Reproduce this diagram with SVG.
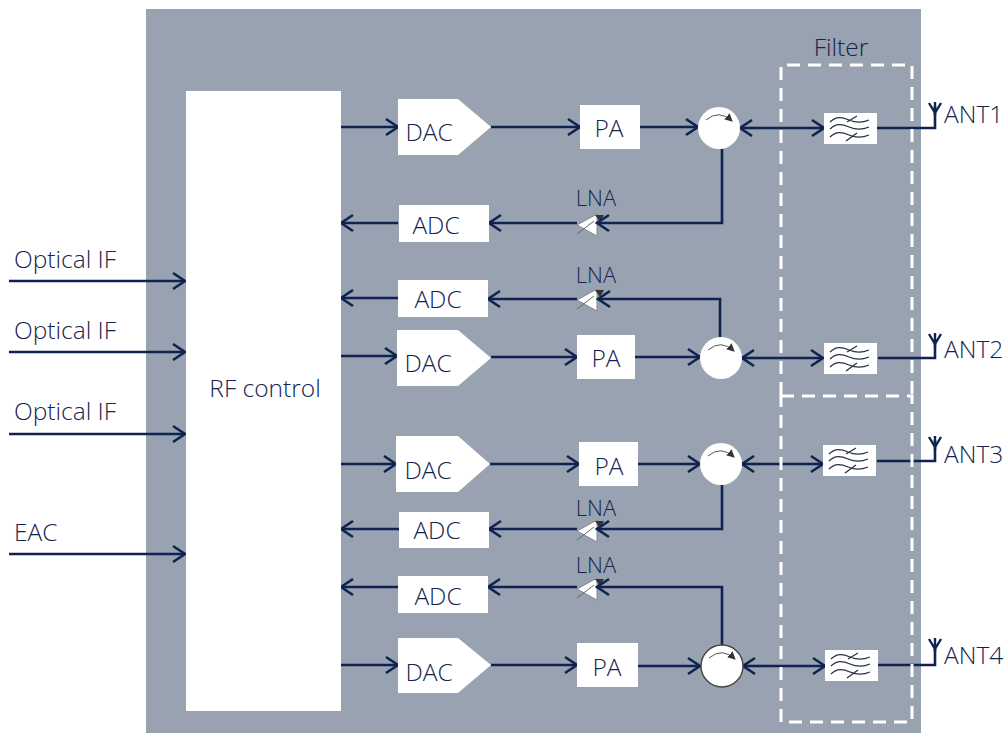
<svg xmlns="http://www.w3.org/2000/svg" width="1006" height="733" viewBox="0 0 1006 733">
<style>
text{font-family:"Open Sans","Noto Sans","Liberation Sans",sans-serif;font-weight:300;fill:#14244d;transform:translateY(-1px)}
.t{font-size:24.5px}
.m{text-anchor:middle}
.l{font-size:22px}
.w{fill:#fff}
.c{fill:none;stroke:#0f2350;stroke-width:2.6}
.a{marker-end:url(#arr)}
.d{fill:none;stroke:#fff;stroke-width:3;stroke-dasharray:13 8}
.f{fill:none;stroke:#2a3244;stroke-width:1.3}
.g{fill:none;stroke:#555;stroke-width:1}
</style>
<defs>
<marker id="arr" markerUnits="userSpaceOnUse" markerWidth="17" markerHeight="20" refX="14" refY="10" orient="auto">
<path d="M2 2L14 10L2 18" fill="none" stroke="#0f2350" stroke-width="2.6"/>
</marker>
<marker id="tip" markerUnits="userSpaceOnUse" markerWidth="10" markerHeight="10" refX="7" refY="4" orient="auto">
<path d="M0 0L8 4L0 8Z" fill="#333"/>
</marker>
<g id="filt">
<rect x="0" y="0" width="53" height="31" class="w"/>
<path class="f" d="M6 9C12 3 18 4 25 7S38 10 45 7M6 16C12 10 18 11 25 14S38 17 45 14M6 24C12 18 18 19 25 22S38 25 45 22M23 9L33 3M22 28L33 20"/>
</g>
<g id="lna">
<path d="M-20 0L0 -11V11Z" class="w" stroke="#888" stroke-width="1"/>
<path d="M-20 9L-3 -4" fill="none" stroke="#666" stroke-width="1"/>
<path d="M-2 -10L7 -10L3 -3Z" fill="#333"/>
</g>
<g id="circ">
<circle r="21" class="w"/>
<path d="M-13 -8Q0 -19 13 -7" class="g" marker-end="url(#tip)"/>
</g>
<g id="ant">
<path d="M-6 -13L0 -3L6 -13M0 -14V0" fill="none" stroke="#0f2350" stroke-width="2.4"/>
</g>
</defs>
<rect id="panel" x="146" y="9" width="775" height="724" fill="#98a2b0"/>
<g id="lna1"><use href="#lna" x="597" y="225"/><text x="596" y="207" class="l m">LNA</text></g>
<g id="lna2"><use href="#lna" x="597" y="300"/><text x="596" y="284" class="l m">LNA</text></g>
<g id="lna3"><use href="#lna" x="597" y="531"/><text x="596" y="517" class="l m">LNA</text></g>
<g id="lna4"><use href="#lna" x="597" y="589"/><text x="596" y="574" class="l m">LNA</text></g>
<g id="connectors">
<path class="c a" d="M9 281H185"/>
<path class="c a" d="M9 352H185"/>
<path class="c a" d="M9 434H185"/>
<path class="c a" d="M9 554H185"/>
<path class="c a" d="M340 127H398"/>
<path class="c a" d="M491 127H580"/>
<path class="c a" d="M640 127H698"/>
<path class="c a" d="M760 128H740"/>
<path class="c a" d="M760 128H824"/>
<path class="c a" d="M722 149V223H597"/>
<path class="c a" d="M577 223H489"/>
<path class="c a" d="M398 223H341"/>
<path class="c a" d="M720 337V299H598"/>
<path class="c a" d="M577 299H488"/>
<path class="c a" d="M398 298H341"/>
<path class="c a" d="M340 356H397"/>
<path class="c a" d="M491 357H577"/>
<path class="c a" d="M635 357H700"/>
<path class="c a" d="M760 358H742"/>
<path class="c a" d="M760 358H823"/>
<path class="c a" d="M340 464H396"/>
<path class="c a" d="M490 464H579"/>
<path class="c a" d="M638 464H700"/>
<path class="c a" d="M760 464H742"/>
<path class="c a" d="M760 464H823"/>
<path class="c a" d="M722 485V529H597"/>
<path class="c a" d="M577 529H489"/>
<path class="c a" d="M399 529H341"/>
<path class="c a" d="M722 645V587H597"/>
<path class="c a" d="M577 587H488"/>
<path class="c a" d="M398 587H341"/>
<path class="c a" d="M340 665H398"/>
<path class="c a" d="M491 665H577"/>
<path class="c a" d="M638 666H700"/>
<path class="c a" d="M762 666H743"/>
<path class="c a" d="M762 666H825"/>
<path class="c" d="M877 128H935V106"/>
<path class="c" d="M878 358H935V340"/>
<path class="c" d="M877 461H935V440"/>
<path class="c" d="M878 665H935V645"/>
</g>
<g id="rf-control"><rect x="186" y="91" width="155" height="620" class="w"/><text x="265" y="398" class="t m">RF control</text></g>
<g id="filter-top"><path d="M781 395V65H912V395" class="d"/></g>
<g id="filter-bottom"><rect x="781" y="396" width="131" height="326" class="d"/></g>
<text x="841" y="57" class="t m">Filter</text>
<g id="dac1"><path class="w" d="M398 99H458L491 127L458 155H398Z"/><text x="429" y="142" class="t m">DAC</text></g>
<g id="pa1"><rect x="580" y="105" width="60" height="44" class="w"/><text x="609" y="138" class="t m">PA</text></g>
<g id="adc1"><rect x="399" y="205" width="90" height="37" class="w"/><text x="436" y="235" class="t m">ADC</text></g>
<g id="circ1"><use href="#circ" x="719" y="128"/></g>
<g id="filt1"><use href="#filt" x="824" y="113"/></g>
<g id="ant1"><use href="#ant" x="935" y="116"/><text x="944" y="124" class="t">ANT1</text></g>
<g id="adc2"><rect x="398" y="280" width="90" height="37" class="w"/><text x="438" y="309" class="t m">ADC</text></g>
<g id="dac2"><path class="w" d="M397 330H458L491 358L458 386H397Z"/><text x="428" y="373" class="t m">DAC</text></g>
<g id="pa2"><rect x="577" y="335" width="58" height="44" class="w"/><text x="606" y="368" class="t m">PA</text></g>
<g id="circ2"><use href="#circ" x="721" y="358"/></g>
<g id="filt2"><use href="#filt" x="824" y="343"/></g>
<g id="ant2"><use href="#ant" x="935" y="347"/><text x="944" y="359" class="t">ANT2</text></g>
<g id="dac3"><path class="w" d="M396 436H458L490 464L458 492H396Z"/><text x="428" y="480" class="t m">DAC</text></g>
<g id="pa3"><rect x="579" y="442" width="59" height="44" class="w"/><text x="609" y="476" class="t m">PA</text></g>
<g id="circ3"><use href="#circ" x="721" y="464"/></g>
<g id="filt3"><use href="#filt" x="823" y="445"/></g>
<g id="ant3"><use href="#ant" x="935" y="450"/><text x="944" y="464" class="t">ANT3</text></g>
<g id="adc3"><rect x="399" y="512" width="90" height="36" class="w"/><text x="437" y="540" class="t m">ADC</text></g>
<g id="adc4"><rect x="398" y="576" width="90" height="37" class="w"/><text x="438" y="606" class="t m">ADC</text></g>
<g id="dac4"><path class="w" d="M398 638H458L491 665L458 693H398Z"/><text x="429" y="682" class="t m">DAC</text></g>
<g id="pa4"><rect x="577" y="643" width="61" height="44" class="w"/><text x="607" y="677" class="t m">PA</text></g>
<g id="circ4"><use href="#circ" x="722" y="666"/><circle cx="722" cy="666" r="21" fill="none" stroke="#444" stroke-width="1.4"/></g>
<g id="filt4"><use href="#filt" x="825" y="650"/></g>
<g id="ant4"><use href="#ant" x="935" y="652"/><text x="944" y="665" class="t">ANT4</text></g>
<text x="14" y="269" class="t">Optical IF</text>
<text x="14" y="340" class="t">Optical IF</text>
<text x="14" y="421" class="t">Optical IF</text>
<text x="14" y="542" class="t">EAC</text>
</svg>
